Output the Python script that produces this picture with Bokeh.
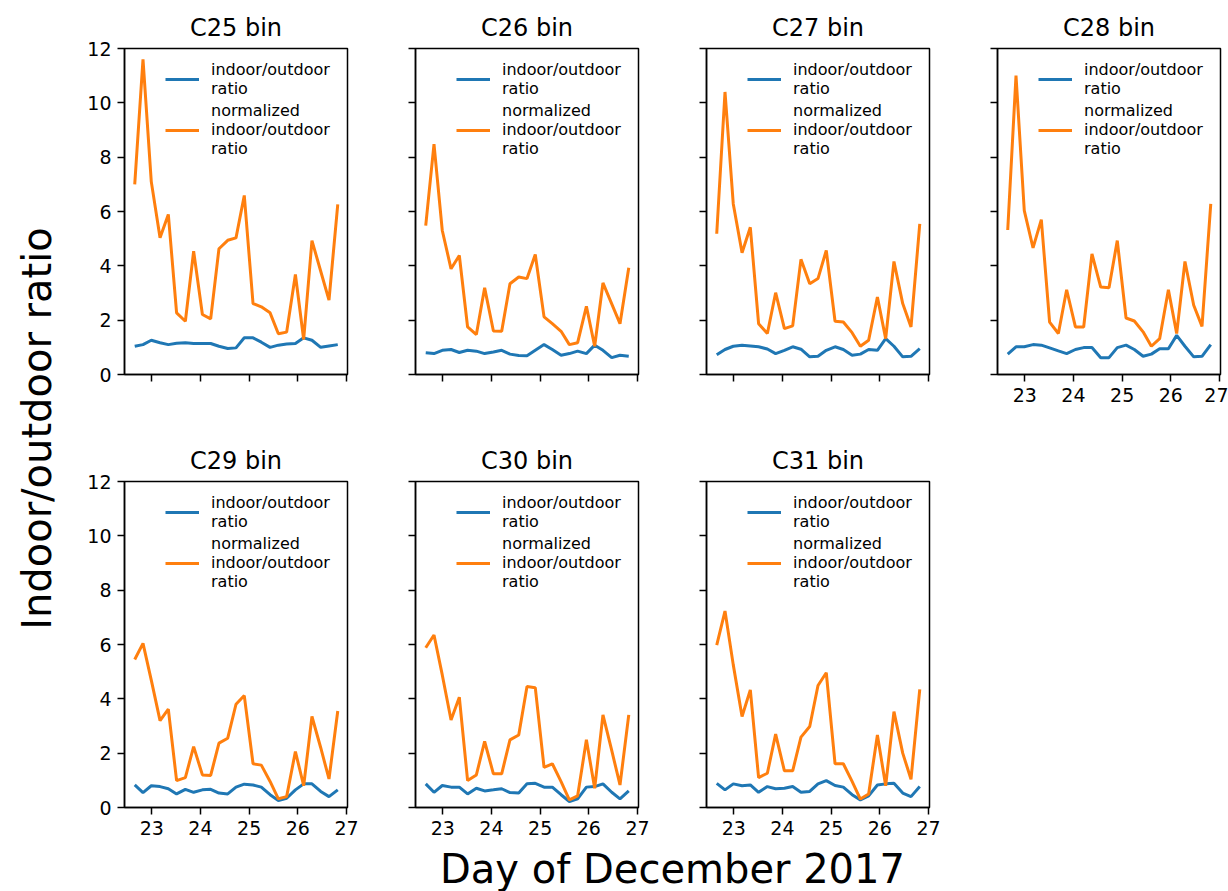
from bokeh.plotting import figure
from bokeh.layouts import gridplot, row, column
from bokeh.models import Range1d, FixedTicker, Legend, LegendItem, Label
from bokeh.embed import file_html
from bokeh.resources import INLINE
import math

# Sampling times (day of December 2017), every ~4 hours
days = [22.65, 22.82, 22.99, 23.17, 23.34, 23.51, 23.69, 23.86, 24.04, 24.21,
        24.38, 24.56, 24.73, 24.90, 25.08, 25.25, 25.43, 25.60, 25.77, 25.95,
        26.12, 26.29, 26.47, 26.64, 26.82]

bin_titles = ["C25 bin", "C26 bin", "C27 bin", "C28 bin", "C29 bin", "C30 bin", "C31 bin"]

ratio_c25 = [1.04, 1.10, 1.26, 1.17, 1.10, 1.15, 1.17, 1.14, 1.14, 1.14, 1.04, 0.96, 0.98,
             1.35, 1.35, 1.19, 1.00, 1.08, 1.12, 1.14, 1.35, 1.26, 1.00, 1.05, 1.10]
norm_c25 = [7.00, 11.60, 7.10, 5.03, 5.89, 2.27, 1.96, 4.54, 2.21, 2.05, 4.63, 4.94, 5.03,
            6.59, 2.61, 2.49, 2.27, 1.50, 1.56, 3.68, 1.29, 4.93, 3.80, 2.74, 6.26]

ratio_c26 = [0.80, 0.77, 0.89, 0.92, 0.81, 0.89, 0.86, 0.77, 0.83, 0.89, 0.75, 0.70, 0.69,
             0.89, 1.10, 0.92, 0.71, 0.77, 0.86, 0.77, 1.08, 0.89, 0.62, 0.71, 0.67]
norm_c26 = [5.48, 8.48, 5.30, 3.89, 4.38, 1.75, 1.47, 3.19, 1.60, 1.59, 3.34, 3.59, 3.53,
            4.42, 2.12, 1.87, 1.59, 1.10, 1.17, 2.51, 1.04, 3.37, 2.60, 1.87, 3.93]

ratio_c27 = [0.73, 0.92, 1.04, 1.08, 1.05, 1.02, 0.94, 0.77, 0.89, 1.02, 0.93, 0.65, 0.67,
             0.89, 1.02, 0.92, 0.71, 0.75, 0.92, 0.89, 1.32, 1.04, 0.65, 0.67, 0.95]
norm_c27 = [5.18, 10.40, 6.28, 4.48, 5.42, 1.87, 1.51, 3.01, 1.69, 1.79, 4.24, 3.34, 3.53,
            4.57, 1.96, 1.93, 1.54, 1.04, 1.26, 2.85, 1.32, 4.16, 2.61, 1.75, 5.54]

ratio_c28 = [0.75, 1.02, 1.02, 1.10, 1.08, 0.98, 0.87, 0.77, 0.92, 0.99, 0.99, 0.62, 0.62,
             0.99, 1.08, 0.92, 0.67, 0.75, 0.95, 0.95, 1.44, 1.04, 0.65, 0.67, 1.10]
norm_c28 = [5.32, 11.00, 6.03, 4.66, 5.70, 1.93, 1.51, 3.12, 1.75, 1.75, 4.44, 3.22, 3.19,
            4.93, 2.08, 1.97, 1.57, 1.04, 1.32, 3.12, 1.51, 4.16, 2.55, 1.77, 6.28]

ratio_c29 = [0.83, 0.55, 0.80, 0.77, 0.69, 0.50, 0.67, 0.56, 0.65, 0.67, 0.53, 0.50, 0.75,
             0.86, 0.83, 0.75, 0.47, 0.26, 0.34, 0.65, 0.87, 0.87, 0.59, 0.40, 0.65]
norm_c29 = [5.45, 6.04, 4.69, 3.20, 3.62, 0.99, 1.10, 2.24, 1.20, 1.18, 2.37, 2.55, 3.80,
            4.12, 1.61, 1.56, 0.96, 0.32, 0.40, 2.06, 0.80, 3.35, 2.20, 1.05, 3.55]

ratio_c30 = [0.87, 0.56, 0.81, 0.75, 0.75, 0.50, 0.71, 0.61, 0.65, 0.69, 0.55, 0.53, 0.87,
             0.89, 0.75, 0.75, 0.47, 0.22, 0.32, 0.75, 0.77, 0.87, 0.56, 0.32, 0.61]
norm_c30 = [5.88, 6.35, 4.88, 3.22, 4.06, 0.99, 1.20, 2.43, 1.24, 1.24, 2.49, 2.67, 4.45,
            4.41, 1.48, 1.61, 0.95, 0.28, 0.43, 2.49, 0.71, 3.41, 2.10, 0.83, 3.41]

ratio_c31 = [0.89, 0.65, 0.87, 0.80, 0.83, 0.56, 0.77, 0.69, 0.71, 0.77, 0.56, 0.59, 0.87,
             0.99, 0.81, 0.75, 0.47, 0.28, 0.43, 0.83, 0.87, 0.89, 0.53, 0.40, 0.77]
norm_c31 = [5.98, 7.23, 5.25, 3.35, 4.33, 1.10, 1.26, 2.70, 1.35, 1.35, 2.59, 2.98, 4.49,
            4.96, 1.61, 1.61, 0.96, 0.31, 0.50, 2.67, 0.80, 3.53, 2.00, 1.04, 4.35]

x_ticks = [23, 24, 25, 26, 27]
y_ticks = [0, 2, 4, 6, 8, 10, 12]

ratios = [ratio_c25, ratio_c26, ratio_c27, ratio_c28, ratio_c29, ratio_c30, ratio_c31]
norms = [norm_c25, norm_c26, norm_c27, norm_c28, norm_c29, norm_c30, norm_c31]

BLUE = "#1f77b4"
ORANGE = "#ff7f0e"
FONT = "DejaVu Sans"

FRAME_W, FRAME_H = 223, 326
LEFT = [64, 34, 34, 34]
RIGHT = [34, 34, 34, 8]
TOP = [48, 67]
BOTTOM = [40, 40]


def style_axis(ax, show_labels):
    ax.axis_line_color = "black"
    ax.axis_line_width = 1.5
    ax.major_tick_line_color = "black"
    ax.major_tick_line_width = 1.5
    ax.major_tick_in = 0
    ax.major_tick_out = 7
    ax.minor_tick_line_color = None
    ax.major_label_standoff = 6
    ax.major_label_text_font = FONT
    ax.major_label_text_font_size = "19px"
    ax.major_label_text_color = "black" if show_labels else None


def make_panel(idx, r, c, xlabels, ylabels):
    p = figure(frame_width=FRAME_W, frame_height=FRAME_H,
               x_range=Range1d(22.44, 27.02), y_range=Range1d(0, 12),
               output_backend="svg", toolbar_location=None,
               min_border_left=LEFT[c], min_border_right=RIGHT[c],
               min_border_top=TOP[r], min_border_bottom=BOTTOM[r],
               background_fill_color="white", border_fill_color="white")
    p.outline_line_color = "black"
    p.outline_line_width = 1.5
    p.xgrid.visible = False
    p.ygrid.visible = False
    p.xaxis.ticker = FixedTicker(ticks=x_ticks)
    p.yaxis.ticker = FixedTicker(ticks=y_ticks)
    style_axis(p.xaxis[0], xlabels)
    style_axis(p.yaxis[0], ylabels)

    p.title.text = bin_titles[idx]
    p.title.align = "center"
    p.title.standoff = 14
    p.title.text_font = FONT
    p.title.text_font_size = "24px"
    p.title.text_font_style = "normal"
    p.title.text_color = "black"

    r1 = p.line(days, ratios[idx], line_color=BLUE, line_width=3)
    r2 = p.line(days, norms[idx], line_color=ORANGE, line_width=3)
    legend = Legend(items=[
        LegendItem(label="indoor/outdoor\nratio", renderers=[r1]),
        LegendItem(label="normalized\nindoor/outdoor\nratio", renderers=[r2]),
    ], location="top_right")
    legend.border_line_color = None
    legend.background_fill_alpha = 0
    legend.margin = 12
    legend.padding = 10
    legend.spacing = 3
    legend.glyph_width = 34
    legend.label_width = 124
    legend.label_standoff = 12
    legend.label_text_font = FONT
    legend.label_text_font_size = "16px"
    legend.label_text_color = "black"
    p.add_layout(legend)
    return p


panels = []
positions = [(0, 0), (0, 1), (0, 2), (0, 3), (1, 0), (1, 1), (1, 2)]
for i, (r, c) in enumerate(positions):
    xlabels = (r == 1) or (c == 3)
    ylabels = (c == 0)
    panels.append(make_panel(i, r, c, xlabels, ylabels))

grid = gridplot([panels[0:4], panels[4:7] + [None]], toolbar_location=None)

# Shared y label strip
ylab = figure(width=60, height=891, output_backend="svg", toolbar_location=None,
              x_axis_location=None, y_axis_location=None, min_border=0,
              outline_line_color=None, x_range=Range1d(0, 1), y_range=Range1d(0, 1))
ylab.grid.visible = False
ylab.add_layout(Label(x=36, y=463, x_units="screen", y_units="screen",
                      text="Indoor/outdoor ratio", angle=math.pi / 2,
                      text_align="center", text_baseline="middle",
                      text_font=FONT, text_font_size="40px", text_color="black"))

# Shared x label strip
xlab = figure(width=1168, height=44, output_backend="svg", toolbar_location=None,
              x_axis_location=None, y_axis_location=None, min_border=0,
              outline_line_color=None, x_range=Range1d(0, 1), y_range=Range1d(0, 1))
xlab.grid.visible = False
xlab.add_layout(Label(x=612, y=23, x_units="screen", y_units="screen",
                      text="Day of December 2017",
                      text_align="center", text_baseline="alphabetic",
                      text_font=FONT, text_font_size="40px", text_color="black"))

layout = row(ylab, column(grid, xlab))

open("out.html", "w").write(file_html(layout, INLINE))
